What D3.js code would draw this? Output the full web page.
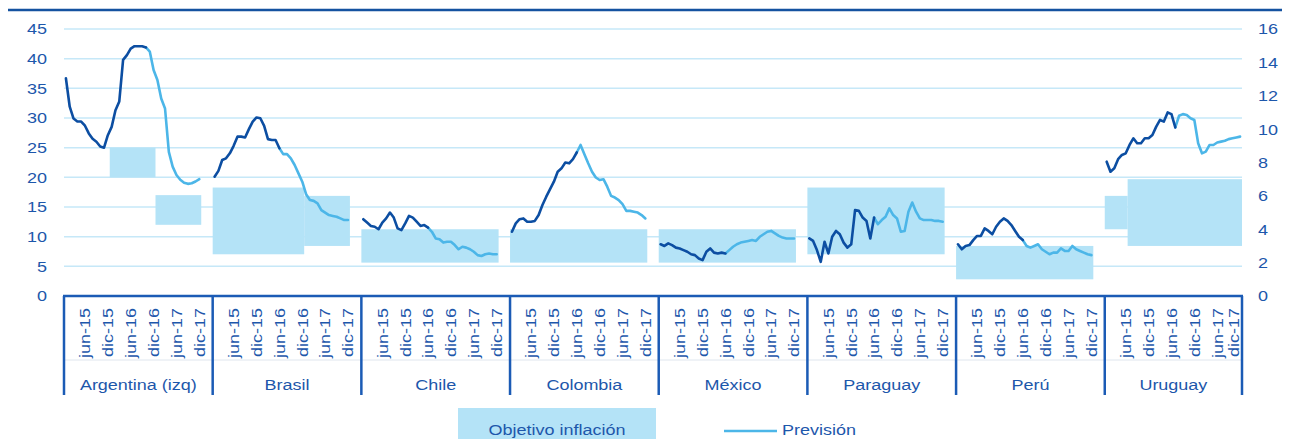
<!DOCTYPE html>
<html>
<head>
<meta charset="utf-8">
<script src="https://cdn.jsdelivr.net/npm/d3@7"></script>
<style>
  body { margin: 0; background: #fff; }
  svg { display: block; font-family: "Liberation Sans", Arial, sans-serif; }
</style>
</head>
<body>
<svg id="chart" width="1296" height="439"></svg>
<script>
// inflacion a/a por pais, ene-15 .. dic-17 (36 meses)
const countries = ["Argentina (izq)", "Brasil", "Chile", "Colombia", "México", "Paraguay", "Perú", "Uruguay"];
const tickLabels = ["jun-15", "dic-15", "jun-16", "dic-16", "jun-17", "dic-17"];
const tickMonths = [5, 11, 17, 23, 29, 35];

const argentina = [36.7, 31.9, 29.9, 29.4, 29.4, 28.7, 27.4, 26.5, 26.0, 25.2, 25.0, 27.1,
  28.5, 31.3, 32.8, 39.8, 40.6, 41.7, 42.1, 42.1, 42.1, 41.9, 41.2, 38.1,
  36.4, 33.3, 31.6, 24.3, 21.8, 20.4, 19.6, 19.1, 18.9, 19.0, 19.3, 19.7];
const brasil = [7.15, 7.5, 8.15, 8.25, 8.55, 9.0, 9.55, 9.55, 9.5, 10.0, 10.45, 10.7,
  10.65, 10.2, 9.4, 9.35, 9.35, 8.85, 8.5, 8.5, 8.25, 7.85, 7.35, 6.85,
  6.1, 5.75, 5.7, 5.55, 5.15, 5.0, 4.85, 4.8, 4.75, 4.65, 4.55, 4.55];
const chile = [4.6, 4.4, 4.2, 4.15, 4.0, 4.4, 4.65, 5.0, 4.7, 4.05, 3.95, 4.35,
  4.8, 4.7, 4.45, 4.2, 4.25, 4.1, 3.85, 3.45, 3.4, 3.2, 3.25, 3.25,
  3.05, 2.8, 2.95, 2.9, 2.8, 2.65, 2.45, 2.4, 2.5, 2.55, 2.5, 2.5];
const colombia = [3.85, 4.35, 4.6, 4.65, 4.45, 4.45, 4.5, 4.85, 5.45, 5.95, 6.4, 6.85,
  7.45, 7.65, 8.0, 7.95, 8.2, 8.6, 9.05, 8.5, 7.95, 7.45, 7.1, 6.95,
  7.0, 6.55, 6.0, 5.9, 5.75, 5.5, 5.1, 5.1, 5.05, 5.0, 4.85, 4.65];
const mexico = [3.1, 3.0, 3.15, 3.05, 2.9, 2.85, 2.75, 2.65, 2.5, 2.45, 2.25, 2.15,
  2.65, 2.85, 2.6, 2.55, 2.6, 2.55, 2.75, 2.95, 3.1, 3.2, 3.25, 3.3,
  3.35, 3.3, 3.55, 3.7, 3.85, 3.9, 3.75, 3.6, 3.5, 3.45, 3.45, 3.45];
const paraguay = [3.45, 3.3, 2.75, 2.05, 3.25, 2.55, 3.55, 3.9, 3.7, 3.2, 2.9, 3.1,
  5.15, 5.1, 4.7, 4.5, 3.45, 4.7, 4.3, 4.55, 4.75, 5.25, 4.85, 4.65,
  3.85, 3.9, 5.05, 5.6, 5.05, 4.65, 4.55, 4.55, 4.55, 4.5, 4.5, 4.45];
const peru = [3.1, 2.8, 3.0, 3.05, 3.35, 3.6, 3.6, 4.05, 3.9, 3.7, 4.15, 4.45,
  4.65, 4.5, 4.25, 3.9, 3.55, 3.35, 3.0, 2.9, 3.0, 3.1, 2.8, 2.65,
  2.5, 2.6, 2.6, 2.85, 2.7, 2.7, 3.0, 2.8, 2.7, 2.6, 2.5, 2.45];
const uruguay = [8.05, 7.45, 7.65, 8.2, 8.45, 8.55, 9.05, 9.45, 9.15, 9.15, 9.45, 9.45,
  9.65, 10.15, 10.55, 10.45, 11.0, 10.9, 10.1, 10.8, 10.9, 10.85, 10.65, 10.55,
  9.15, 8.55, 8.65, 9.05, 9.05, 9.2, 9.25, 9.3, 9.4, 9.45, 9.5, 9.55];
const series = [argentina, brasil, chile, colombia, mexico, paraguay, peru, uruguay];

// ultimo mes observado (indice), despues es prevision
const lastActual = [21, 17, 17, 17, 17, 17, 17, 18];

// objetivo de inflacion por semestre (1S15, 2S15, 1S16, 2S16, 1S17, 2S17)
const targetLow = [
  [null, null, 20, 20, 12, 12],
  [2.5, 2.5, 2.5, 2.5, 3, 3],
  [2, 2, 2, 2, 2, 2],
  [2, 2, 2, 2, 2, 2],
  [2, 2, 2, 2, 2, 2],
  [2.5, 2.5, 2.5, 2.5, 2.5, 2.5],
  [1, 1, 1, 1, 1, 1],
  [4, 3, 3, 3, 3, 3]
];
const targetHigh = [
  [null, null, 25, 25, 17, 17],
  [6.5, 6.5, 6.5, 6.5, 6, 6],
  [4, 4, 4, 4, 4, 4],
  [4, 4, 4, 4, 4, 4],
  [4, 4, 4, 4, 4, 4],
  [6.5, 6.5, 6.5, 6.5, 6.5, 6.5],
  [3, 3, 3, 3, 3, 3],
  [6, 7, 7, 7, 7, 7]
];

const leftTicks = d3.range(0, 46, 5);
const rightTicks = d3.range(0, 17, 2);

const dark = "#0c4ea2", light = "#4cb6e8", band = "#b4e3f7", grid = "#c6e8f8", txt = "#1d57ab", axisCol = "#1b5bb5";

const plotL = 64, plotR = 1242, plotT = 29, plotB = 296;
const perPanel = 39;  // 36 meses + 3 huecos
const nCats = perPanel * (countries.length - 1) + 36;

const svg = d3.select("#chart");

const x = d3.scaleBand().domain(d3.range(nCats)).range([plotL, plotR]).padding(0);
const bw = x.bandwidth();
const xc = (c, j) => x(c * perPanel + j) + bw / 2;

const yL = d3.scaleLinear().domain([0, 45]).range([plotB, plotT]);
const yR = d3.scaleLinear().domain([0, 16]).range([plotB, plotT]);
const yOf = c => c === 0 ? yL : yR;

// linea superior (titulo recortado)
svg.append("line").attr("x1", 8).attr("x2", 1282).attr("y1", 10).attr("y2", 10)
  .attr("stroke", "#1452a0").attr("stroke-width", 2.5);

// rejilla
svg.append("g").selectAll("line").data(leftTicks.slice(1)).join("line")
  .attr("x1", plotL).attr("x2", plotR)
  .attr("y1", d => yL(d)).attr("y2", d => yL(d))
  .attr("stroke", grid).attr("stroke-width", 1.5);

// ejes y
const ax = svg.append("g").attr("transform", `translate(${plotL},0)`)
  .call(d3.axisLeft(yL).tickValues(leftTicks).tickSize(0).tickPadding(17));
const ax2 = svg.append("g").attr("transform", `translate(${plotR},0)`)
  .call(d3.axisRight(yR).tickValues(rightTicks).tickSize(0).tickPadding(16));
[ax, ax2].forEach(g => {
  g.select(".domain").remove();
  g.selectAll("text").attr("fill", txt).attr("font-size", 18)
    .attr("font-family", "Liberation Sans, Arial, sans-serif")
    .attr("transform", "scale(1,0.86)");
});

// bandas de objetivo
const rects = [];
countries.forEach((name, c) => {
  let cur = null;
  targetLow[c].forEach((lo, s) => {
    const hi = targetHigh[c][s];
    if (lo == null) { cur = null; return; }
    if (cur && cur.lo === lo && cur.hi === hi) { cur.s1 = s; return; }
    cur = { c, lo, hi, s0: s, s1: s };
    rects.push(cur);
  });
});
svg.append("g").selectAll("rect").data(rects).join("rect")
  .attr("x", d => x(d.c * perPanel + d.s0 * 6))
  .attr("width", d => x(d.c * perPanel + d.s1 * 6 + 5) + bw - x(d.c * perPanel + d.s0 * 6))
  .attr("y", d => yOf(d.c)(d.hi))
  .attr("height", d => yOf(d.c)(d.lo) - yOf(d.c)(d.hi))
  .attr("fill", band);

// lineas
const lines = svg.append("g").attr("fill", "none").attr("stroke-width", 2.6)
  .attr("stroke-linejoin", "round").attr("stroke-linecap", "round");
series.forEach((vals, c) => {
  const y = yOf(c);
  const line = d3.line().x(d => xc(c, d[0])).y(d => y(d[1]));
  const pts = vals.map((v, j) => [j, v]);
  lines.append("path").attr("d", line(pts.slice(lastActual[c]))).attr("stroke", light);
  lines.append("path").attr("d", line(pts.slice(0, lastActual[c] + 1))).attr("stroke", dark);
});

// eje x multinivel
const xa = svg.append("g");
xa.append("line").attr("x1", plotL).attr("x2", plotR).attr("y1", 360).attr("y2", 360)
  .attr("stroke", "#dfe6ee").attr("stroke-width", 1);
xa.append("line").attr("x1", plotL - 1).attr("x2", plotR + 1).attr("y1", plotB).attr("y2", plotB)
  .attr("stroke", axisCol).attr("stroke-width", 2.5);
const seps = countries.map((d, c) => x(c * perPanel)).concat([plotR]);
xa.selectAll("line.sep").data(seps).join("line").attr("class", "sep")
  .attr("x1", d => d).attr("x2", d => d).attr("y1", plotB).attr("y2", 395)
  .attr("stroke", axisCol).attr("stroke-width", 2.5);

const tickData = [];
countries.forEach((name, c) => tickMonths.forEach((m, k) => tickData.push({ c, m, label: tickLabels[k] })));
xa.selectAll("text.tick").data(tickData).join("text").attr("class", "tick")
  .attr("transform", d => `translate(${Math.min(xc(d.c, d.m), plotR - 8)},308) rotate(-90) scale(1,0.8)`)
  .attr("text-anchor", "end").attr("dominant-baseline", "central")
  .attr("font-size", 18).attr("fill", txt).text(d => d.label);

xa.selectAll("text.group").data(countries).join("text").attr("class", "group")
  .attr("transform", (d, c) => `translate(${(seps[c] + seps[c + 1]) / 2},390) scale(1,0.86)`)
  .attr("text-anchor", "middle").attr("font-size", 18).attr("fill", txt).text(d => d);

// leyenda
const lg = svg.append("g");
lg.append("rect").attr("x", 458).attr("y", 408).attr("width", 198).attr("height", 40).attr("fill", band);
lg.append("text").attr("transform", "translate(557,435) scale(1,0.86)").attr("text-anchor", "middle")
  .attr("font-size", 18).attr("fill", txt).text("Objetivo inflación");
lg.append("line").attr("x1", 724).attr("x2", 777).attr("y1", 431).attr("y2", 431)
  .attr("stroke", light).attr("stroke-width", 2.6);
lg.append("text").attr("transform", "translate(782,435) scale(1,0.86)")
  .attr("font-size", 18).attr("fill", txt).text("Previsión");
</script>
</body>
</html>
